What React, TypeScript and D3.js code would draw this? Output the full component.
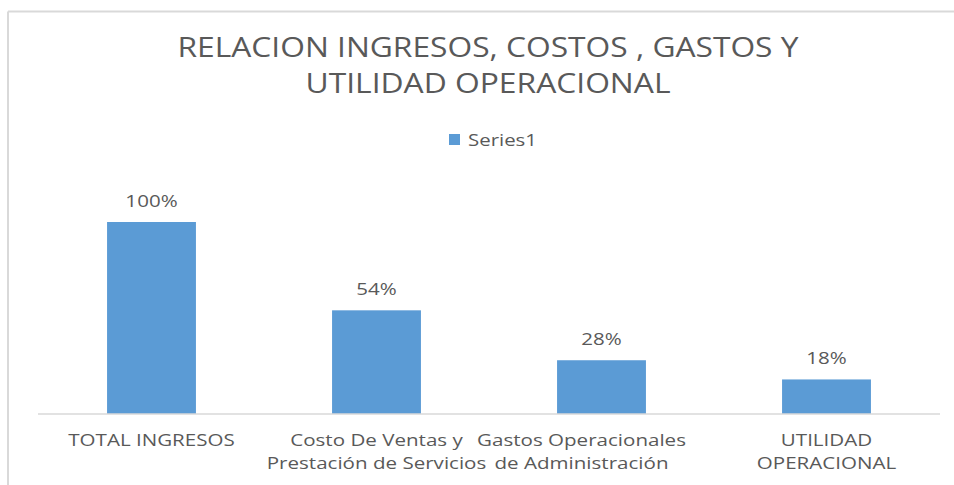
import React from "react";
import * as d3 from "d3";

const categories = [
  "TOTAL INGRESOS",
  "Costo De Ventas y Prestación de Servicios",
  "Gastos Operacionales de Administración",
  "UTILIDAD OPERACIONAL",
];
const categoryLines = [
  ["TOTAL INGRESOS"],
  ["Costo De Ventas y", "Prestación de Servicios"],
  ["Gastos Operacionales", "de Administración"],
  ["UTILIDAD", "OPERACIONAL"],
];
const values = [1.0, 0.54, 0.28, 0.18];
const seriesName = "Series1";
const titleLines = ["RELACION INGRESOS, COSTOS , GASTOS Y", "UTILIDAD OPERACIONAL"];

// horizontal shift of each category label block (Excel's wrapped-label placement)
const labelShift = [0, 0, -20, 0];
const titleWidths = [621, 365];

const W = 954;
const H = 485;
const FONT = "'Open Sans', sans-serif";
const TEXT = "#595959";
const BAR = "#5B9BD5";
const GRID = "#D9D9D9";
const STRETCH = 1.21;

function SText({ x, y, children, size = 17, anchor = "middle" }: any) {
  return (
    <g transform={`translate(${x},${y}) scale(${STRETCH},1)`}>
      <text x={0} y={0} textAnchor={anchor} fontSize={size} fill={TEXT}>
        {children}
      </text>
    </g>
  );
}

export default function App() {
  const x = d3
    .scaleBand<string>()
    .domain(categories)
    .range([39, 939])
    .paddingInner(0.605)
    .paddingOuter(0.3025);
  const y = d3.scaleLinear().domain([0, 1]).range([414, 222]);
  const fmt = d3.format(".0%");
  const cx = (c: string) => (x(c) as number) + x.bandwidth() / 2;

  return (
    <svg
      width={W}
      height={H}
      style={{ position: "absolute", left: 0, top: 0, background: "#fff" }}
      fontFamily={FONT}
    >
      <rect x={0} y={0} width={W} height={H} fill="#fff" />
      {/* chart area border */}
      <line x1={8} x2={W} y1={11.5} y2={11.5} stroke={GRID} strokeWidth={2} />
      <line x1={8} x2={8} y1={11.5} y2={H} stroke={GRID} strokeWidth={2} />

      {/* title */}
      {titleLines.map((t, i) => (
        <text
          key={i}
          x={488}
          y={57 + i * 36}
          textAnchor="middle"
          fontSize={27}
          fill={TEXT}
          textLength={titleWidths[i]}
          lengthAdjust="spacingAndGlyphs"
        >
          {t}
        </text>
      ))}

      {/* legend */}
      <rect x={449} y={134} width={11} height={11} fill={BAR} />
      <text x={468} y={146} fontSize={17} fill={TEXT} textLength={69} lengthAdjust="spacingAndGlyphs">
        {seriesName}
      </text>

      {/* bars */}
      {categories.map((c, i) => (
        <rect
          key={c}
          x={x(c)}
          y={y(values[i])}
          width={x.bandwidth()}
          height={y(0) - y(values[i])}
          fill={BAR}
        />
      ))}

      {/* axis line */}
      <line x1={38} x2={940} y1={414} y2={414} stroke={GRID} strokeWidth={1.5} />

      {/* data labels */}
      {categories.map((c, i) => (
        <SText key={c} x={cx(c)} y={y(values[i]) - 15}>
          {fmt(values[i])}
        </SText>
      ))}

      {/* category labels */}
      {categories.map((c, i) =>
        categoryLines[i].map((line, j) => (
          <SText key={c + j} x={cx(c) + labelShift[i]} y={446 + j * 23}>
            {line}
          </SText>
        ))
      )}
    </svg>
  );
}
